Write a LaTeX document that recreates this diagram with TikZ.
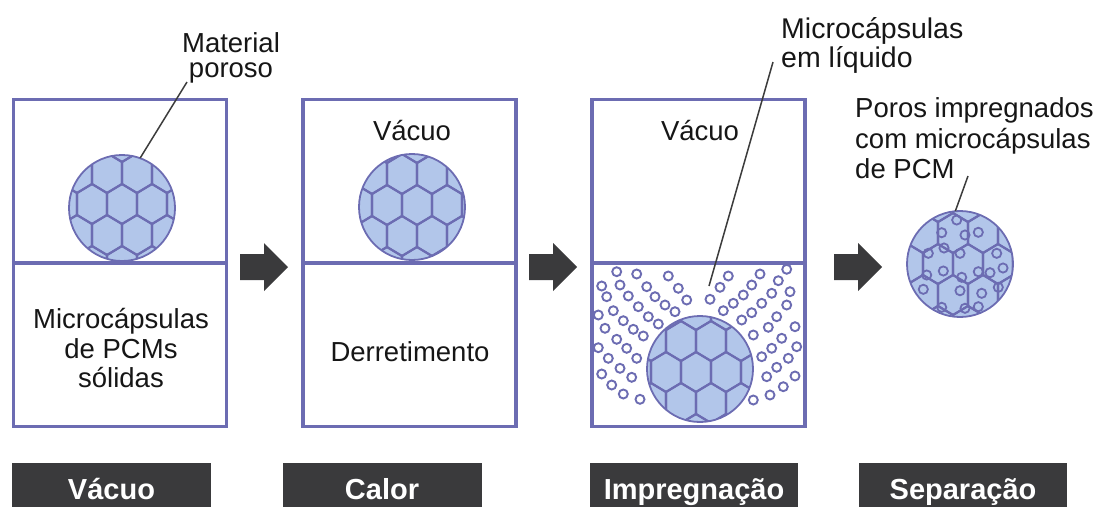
\documentclass[tikz,border=0pt]{standalone}
\usepackage{fontspec}
\setmainfont{Liberation Sans}
\definecolor{frame}{RGB}{108,108,178}
\definecolor{capfill}{RGB}{178,198,234}
\definecolor{ink}{RGB}{22,22,22}
\definecolor{tagfill}{RGB}{58,58,60}
\definecolor{leadcol}{RGB}{60,60,60}

\tikzset{
  chamber/.style={draw=frame, line width=3.2pt, minimum width=213pt, minimum height=327pt, inner sep=0pt},
  divider/.style={draw=frame, line width=3.2pt},
  porous/.style={circle, minimum size=106pt, inner sep=0pt},
  rim/.style={draw=frame, line width=1.8pt},
  cellwall/.style={draw=frame, line width=2.1pt, line join=round},
  bead/.style={draw=frame, line width=1.9pt, fill=white},
  innerbead/.style={draw=frame, line width=1.8pt},
  leader/.style={draw=leadcol, line width=1.5pt},
  txt/.style={text=ink, inner sep=0pt, font=\fontsize{27.5}{29.5}\selectfont},
  bigtxt/.style={txt, font=\fontsize{28.5}{30}\selectfont},
  tagbox/.style={fill=tagfill, minimum width=199pt, minimum height=44pt, inner sep=0pt},
  tagtext/.style={text=white, inner sep=0pt, font=\bfseries\fontsize{29}{32}\selectfont},
  pusher/.style={fill=tagfill},
}

% porous grain: filled disc with a honeycomb of cell walls
\newcommand\grain[4]{%
  \begin{scope}
    \clip (#1,#2) circle (53);
    \fill[capfill] (#1,#2) circle (53);
    \foreach \r in {-3,...,3}{
      \foreach \c in {-3,...,3}{
        \pgfmathsetmacro\cx{#1+#3+\c*30+mod(abs(\r),2)*15}
        \pgfmathsetmacro\cy{#2+#4+\r*31}
        \draw[cellwall] (\cx,\cy-20) -- ++(15,9) -- ++(0,22) -- ++(-15,9)
          -- ++(-15,-9) -- ++(0,-22) -- cycle;
      }
    }
  \end{scope}
  \draw[rim] (#1,#2) circle (53);
}

% block arrow between stages
\newcommand\pushright[2]{%
  \fill[pusher] (#1,#2-13) -- (#1+24,#2-13) -- (#1+24,#2-24) -- (#1+48,#2)
    -- (#1+24,#2+24) -- (#1+24,#2+13) -- (#1,#2+13) -- cycle;
}

\begin{document}
\begin{tikzpicture}[x=1pt,y=-1pt]
\useasboundingbox (0,0) rectangle (1097,507);

% ---- chambers ----
\node[chamber] (b1) at (120,263) {};
\node[chamber] (b2) at (409.5,263) {};
\node[chamber] (b3) at (698.5,263) {};
\draw[divider] (b1.west) -- (b1.east);
\draw[divider] (b2.west) -- (b2.east);
\draw[divider] (b3.west) -- (b3.east);

% ---- arrows ----
\pushright{240}{267}
\pushright{529}{267}
\pushright{834}{267}

% ---- stage 1 ----
\node[porous] (p1) at (122,208) {};
\grain{122}{208}{0}{-4}
\node[txt, anchor=base] (t1a) at (121,328) {Microcápsulas};
\node[txt, anchor=base] (t1b) at (121,358) {de PCMs};
\node[txt, anchor=base] (t1c) at (121,387) {sólidas};
\node[txt, anchor=base] (lab1a) at (231,52) {Material};
\node[txt, anchor=base] (lab1b) at (231,77) {poroso};
\coordinate (l1) at (187,82);
\draw[leader] (l1) -- (p1.70);

% ---- stage 2 ----
\node[txt, anchor=base] (v2) at (412,140) {Vácuo};
\node[porous] (p2) at (412,207) {};
\grain{412}{207}{5}{-2}
\node[txt, anchor=base] (d2) at (410,361) {Derretimento};

% ---- stage 3 ----
\node[txt, anchor=base] (v3) at (700,140) {Vácuo};
\foreach \x/\y in {
  616.7/271.7, 636.7/274, 668.3/276, 601.7/286, 620/285, 646.7/286.7,
  678.3/288.3, 606.7/296.7, 628.3/296, 655/296.7, 686.7/300, 665/305,
  675/311.7, 638.3/306.7, 613.3/310.7, 648.3/316.7, 598.3/315, 623.3/320.7,
  658.3/324, 605/328.3, 633.3/329.3, 643.3/336, 616.7/339.3, 626.7/348.3,
  598.3/347.7, 636.7/358.3, 608.3/358.3, 620/368.3, 631.7/377.3, 601.7/374,
  611.7/385, 623.3/394, 640/399.3,
  728.3/276, 760/274, 786.7/269.3, 720/287.3, 751.7/285, 778.3/280.7,
  710/299.3, 733.3/303.3, 743.3/295, 771.7/293.3, 790/291.7, 723.3/310.7,
  751.7/312.7, 761.7/303.3, 786.7/305, 741.7/320, 776.7/316.7, 753.3/335,
  768.3/327.3, 795/326.7, 781.7/338.3, 761.7/356.7, 771.7/348.3, 796.7/346.7,
  788.3/358.3, 776.7/367.3, 766.7/376.7, 795/376, 783.3/386.7, 770/395,
  753.3/400}
  \draw[bead] (\x,\y) circle (4.5);
\node[porous] (p3) at (700,369) {};
\grain{700}{369}{-4}{3}
\node[bigtxt, anchor=base west] (lab3a) at (781,38) {Microcápsulas};
\node[bigtxt, anchor=base west] (lab3b) at (781,67) {em líquido};
\coordinate (l3a) at (773,62);
\coordinate (l3b) at (709,286);
\draw[leader] (l3a) -- (l3b);

% ---- stage 4 ----
\node[porous] (p4) at (960,264) {};
\grain{960}{264}{8}{0}
\begin{scope}
  \clip (960,264) circle (53);
  \foreach \x/\y in {
    956.7/220, 941.7/232.7, 965/235, 978.3/232.3, 928.3/253.3, 960/253.3,
    996.7/253.3, 943.3/271, 978.3/271.7, 990/272.7, 926.7/275, 961.7/277.3,
    923.3/289.3, 960/290.7, 998.3/287.3, 981.7/293.3, 941.7/307.3, 965/308.3,
    978.3/306.7, 944/248, 1003/268}
    \draw[innerbead] (\x,\y) circle (4.6);
\end{scope}
\node[txt, anchor=base west] (lab4a) at (855,117) {Poros impregnados};
\node[txt, anchor=base west] (lab4b) at (855,148) {com microcápsulas};
\node[txt, anchor=base west] (lab4c) at (855,178) {de PCM};
\coordinate (l4) at (968,176);
\draw[leader] (l4) -- (p4.95);

% ---- stage tags ----
\node[tagbox] (g1) at (111.5,485) {};
\node[tagbox] (g2) at (382,485) {};
\node[tagbox, minimum width=208pt] (g3) at (694,485) {};
\node[tagbox, minimum width=208pt] (g4) at (963,485) {};
\node[tagtext, anchor=base] (n1) at (g1.center |- 0,499) {Vácuo};
\node[tagtext, anchor=base] (n2) at (g2.center |- 0,499) {Calor};
\node[tagtext, anchor=base] (n3) at (g3.center |- 0,499) {Impregnação};
\node[tagtext, anchor=base] (n4) at (g4.center |- 0,499) {Separação};
\end{tikzpicture}
\end{document}
